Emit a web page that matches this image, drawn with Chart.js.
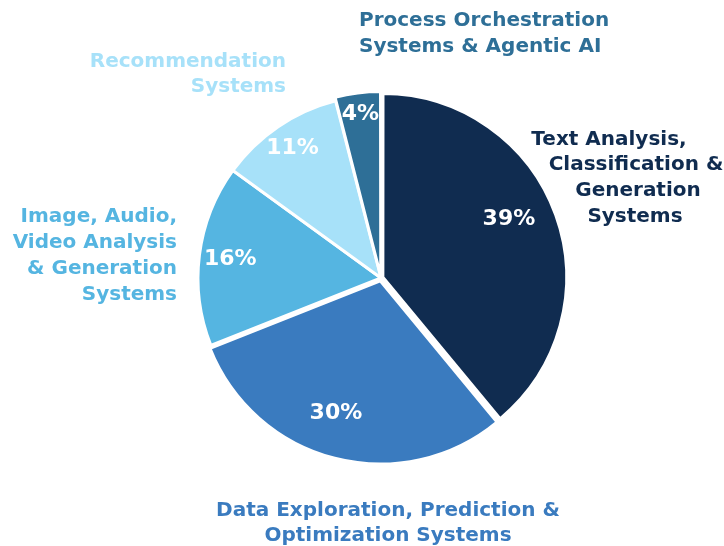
<!DOCTYPE html>
<html>
<head>
<meta charset="utf-8">
<script src="https://cdn.jsdelivr.net/npm/chart.js@4.4.1/dist/chart.umd.min.js"></script>
<style>
  html, body { margin: 0; padding: 0; background: #ffffff; }
  #wrap { width: 724px; height: 546px; position: relative; }
</style>
</head>
<body>
<div id="wrap"><canvas id="c" width="724" height="546"></canvas></div>
<script>
// ---- data ----
const categories = [
  ["Text Analysis,", "Classification &", "Generation", "Systems"],
  ["Data Exploration, Prediction &", "Optimization Systems"],
  ["Image, Audio,", "Video Analysis", "& Generation", "Systems"],
  ["Recommendation", "Systems"],
  ["Process Orchestration", "Systems & Agentic AI"]
];
const shares = [39, 30, 16, 11, 4];
const sliceColors = ["#102c50", "#3a7bbf", "#55b5e1", "#a7e1f9", "#2e6f97"];

// ---- layout (styles / positions) ----
const labelLayout = [
  { lines: [[609, 140], [636, 165], [638, 191], [635, 217]], align: "center" },
  { lines: [[388, 511], [388, 536]], align: "center" },
  { lines: [[177, 217], [177, 243], [177, 269], [177, 295]], align: "right" },
  { lines: [[286, 62], [286, 87]], align: "right" },
  { lines: [[359, 21], [359, 47]], align: "left" }
];
const pctRadiusFrac = [0.77, 0.78, 0.83, 0.86, 0.9];
const pctAngleShiftDeg = [-5, 4, 0, 0, 0];
const FONT = '"DejaVu Sans", "Open Sans", sans-serif';

const labelsPlugin = {
  id: 'customLabels',
  afterDatasetsDraw(chart) {
    const ctx = chart.ctx;
    const meta = chart.getDatasetMeta(0);
    ctx.save();
    ctx.textBaseline = 'middle';
    // percentage labels
    meta.data.forEach((arc, i) => {
      const p = arc.getProps(['x', 'y', 'startAngle', 'endAngle', 'outerRadius'], true);
      const mid = (p.startAngle + p.endAngle) / 2 + pctAngleShiftDeg[i] * Math.PI / 180;
      const r = p.outerRadius * pctRadiusFrac[i];
      ctx.fillStyle = '#ffffff';
      ctx.font = 'bold 22px ' + FONT;
      ctx.textAlign = 'center';
      ctx.fillText(shares[i] + '%', p.x + Math.cos(mid) * r, p.y + Math.sin(mid) * r);
    });
    // category labels
    categories.forEach((lines, i) => {
      const lay = labelLayout[i];
      ctx.fillStyle = sliceColors[i];
      ctx.font = 'bold 20px ' + FONT;
      ctx.textAlign = lay.align;
      lines.forEach((t, j) => {
        ctx.fillText(t, lay.lines[j][0], lay.lines[j][1]);
      });
    });
    ctx.restore();
  }
};

new Chart(document.getElementById('c'), {
  type: 'pie',
  data: {
    labels: categories.map(l => l.join(' ')),
    datasets: [{
      data: shares,
      backgroundColor: sliceColors,
      borderColor: '#ffffff',
      borderWidth: 3,
      offset: [8, 12, 0, 0, 8]
    }]
  },
  options: {
    responsive: false,
    animation: false,
    radius: 183,
    layout: { padding: { left: 201, right: 163, top: 98, bottom: 88 } },
    plugins: {
      legend: { display: false },
      tooltip: { enabled: false }
    }
  },
  plugins: [labelsPlugin]
});
</script>
</body>
</html>
